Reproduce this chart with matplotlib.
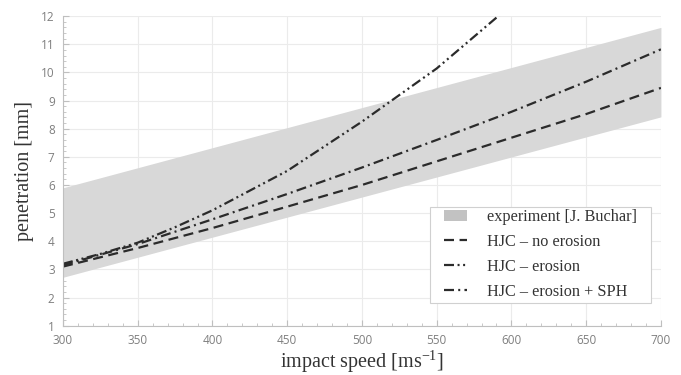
import numpy as np
import matplotlib.pyplot as plt
from matplotlib.patches import Patch, Rectangle
from matplotlib.lines import Line2D

plt.rcParams['mathtext.fontset'] = 'custom'
plt.rcParams['mathtext.rm'] = 'Liberation Serif'

# --- data ---
exp_speed = [300, 700]
exp_low = [2.72, 8.42]
exp_high = [5.9, 11.6]

speed = [300, 350, 400, 450, 500, 550, 600, 650, 700]
no_erosion = [3.1, 3.76, 4.47, 5.23, 6.0, 6.84, 7.68, 8.52, 9.45]
erosion_sph = [3.15, 3.9, 4.78, 5.68, 6.62, 7.6, 8.6, 9.67, 10.82]

erosion_speed = [300, 325, 350, 375, 400, 425, 450, 500, 550, 600]
erosion = [3.2, 3.55, 3.95, 4.5, 5.1, 5.8, 6.5, 8.25, 10.14, 12.4]

labels = ['experiment [J. Buchar]', 'HJC – no erosion', 'HJC – erosion', 'HJC – erosion + SPH']

# --- figure ---
fig = plt.figure(figsize=(6.81, 3.75), dpi=100)
ax = fig.add_axes([0.0925, 0.1315, 0.878, 0.8255])

band_col = '#d8d8d8'
line_col = '#2b2b2b'
lw = 1.6
dash_no = (4.5, 2.5)
dash_ero = (4.5, 1.6, 0.9, 1.6, 0.9, 1.6)
dash_sph = (4.5, 1.9, 0.9, 1.9)

ax.fill_between(exp_speed, exp_low, exp_high, color=band_col, lw=0)
ax.plot(speed, no_erosion, color=line_col, lw=lw, dashes=dash_no)
ax.plot(erosion_speed, erosion, color=line_col, lw=lw, dashes=dash_ero)
ax.plot(speed, erosion_sph, color=line_col, lw=lw, dashes=dash_sph)

ax.set_xlim(300, 700)
ax.set_ylim(1, 12)
ax.set_xticks(np.arange(300, 701, 50))
ax.set_yticks(np.arange(1, 13, 1))
ax.set_xticks(np.arange(300, 701, 10), minor=True)
ax.set_yticks(np.arange(1, 12.01, 0.2), minor=True)

# --- style ---
ax.grid(True, which='major', color='#ebebeb', lw=0.8)
ax.set_axisbelow(True)
for s in ['top', 'right']:
    ax.spines[s].set_visible(False)
for s in ['left', 'bottom']:
    ax.spines[s].set_color('#bfbfbf')
    ax.spines[s].set_linewidth(0.8)
ax.tick_params(which='both', direction='in', color='#bfbfbf', labelcolor='#7f7f7f',
               labelsize=8.5)
ax.tick_params(which='major', length=4, width=0.8, pad=6)
ax.tick_params(which='minor', length=2.5, width=0.6)
for lab in ax.get_xticklabels() + ax.get_yticklabels():
    lab.set_family('Open Sans')

ax.set_xlabel('impact speed [ms$^{\\mathregular{-1}}$]', family='Liberation Serif',
              fontsize=14.5, color='#333333', labelpad=1)
ax.set_ylabel('penetration [mm]', family='Liberation Serif', fontsize=14.5,
              color='#333333', labelpad=5)

# --- legend (frame drawn separately) ---
ax.add_patch(Rectangle((0.614, 0.072), 0.369, 0.312, transform=ax.transAxes,
                       facecolor='white', edgecolor='#d0d0d0', lw=0.8, zorder=4))
handles = [
    Patch(facecolor='#c2c2c2', edgecolor='none'),
    Line2D([], [], color=line_col, lw=lw, dashes=dash_no),
    Line2D([], [], color=line_col, lw=lw, dashes=dash_ero),
    Line2D([], [], color=line_col, lw=lw, dashes=dash_sph),
]
leg = ax.legend(handles, labels, loc='center left', bbox_to_anchor=(0.637, 0.23),
                prop={'family': 'Liberation Serif', 'size': 11.7}, frameon=False,
                handlelength=1.4, handleheight=0.7, handletextpad=1.25,
                borderpad=0, borderaxespad=0, labelspacing=0.54)
leg.set_zorder(5)
for t in leg.get_texts():
    t.set_color('#333333')

fig.savefig('out.png', dpi=100)
